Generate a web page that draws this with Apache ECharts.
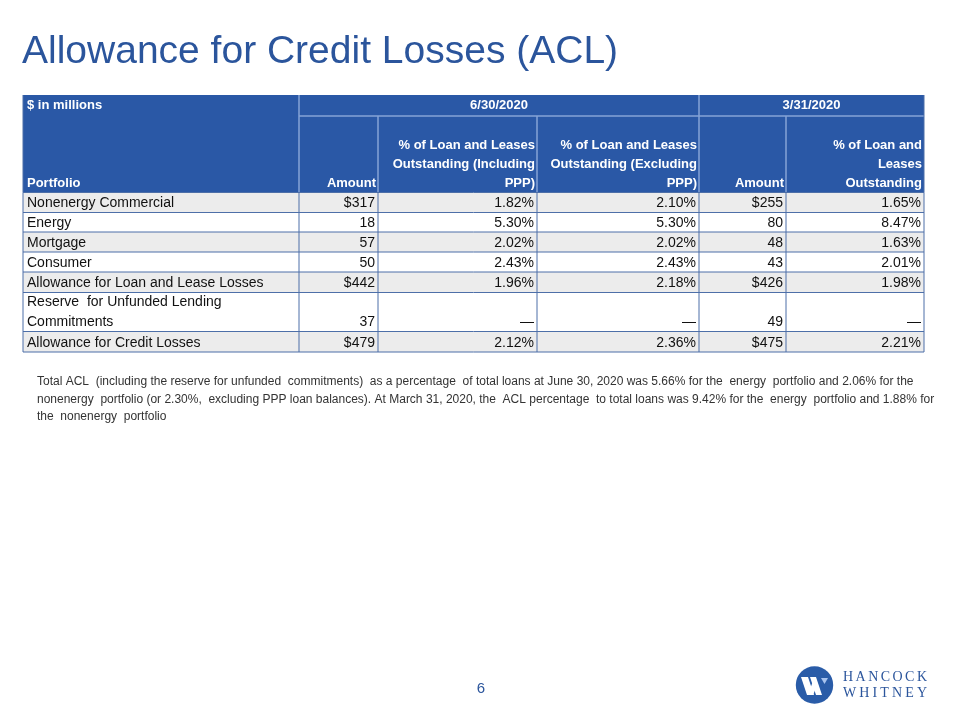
<!DOCTYPE html>
<html>
<head>
<meta charset="utf-8">
<script src="https://cdn.jsdelivr.net/npm/echarts@6/dist/echarts.min.js"></script>
<style>
  html, body { margin: 0; padding: 0; background: #fff; }
  #main { width: 960px; height: 720px; }
</style>
</head>
<body>
<div id="main"></div>
<script>
// table data
const groupHeaders = ['6/30/2020', '3/31/2020']
const columnHeaders = [
  ['Portfolio'],
  ['Amount'],
  ['% of Loan and Leases', 'Outstanding (Including', 'PPP)'],
  ['% of Loan and Leases', 'Outstanding (Excluding', 'PPP)'],
  ['Amount'],
  ['% of Loan and', 'Leases', 'Outstanding']
]
const portfolio = [
  ['Nonenergy Commercial'],
  ['Energy'],
  ['Mortgage'],
  ['Consumer'],
  ['Allowance for Loan and Lease Losses'],
  ['Reserve  for Unfunded Lending', 'Commitments'],
  ['Allowance for Credit Losses']
]
const dollarRows = [0, 4, 6]
const amountJun = [317, 18, 57, 50, 442, 37, 479]
const pctInclPPP = [1.82, 5.30, 2.02, 2.43, 1.96, null, 2.12]
const pctExclPPP = [2.10, 5.30, 2.02, 2.43, 2.18, null, 2.36]
const amountMar = [255, 80, 48, 43, 426, 49, 475]
const pctMar = [1.65, 8.47, 1.63, 2.01, 1.98, null, 2.21]

const footnote = [
  'Total ACL  (including the reserve for unfunded  commitments)  as a percentage  of total loans at June 30, 2020 was 5.66% for the  energy  portfolio and 2.06% for the',
  'nonenergy  portfolio (or 2.30%,  excluding PPP loan balances). At March 31, 2020, the  ACL percentage  to total loans was 9.42% for the  energy  portfolio and 1.88% for',
  'the  nonenergy  portfolio'
]

// layout
const colX = [23, 299, 378, 537, 699, 786, 924]
const headTop = 95, headMid = 116, headBottom = 192.5
const rowY = [192.5, 212.5, 232, 252, 272, 292.5, 331.5, 352]
const blue = '#2a58a6'
const titleBlue = '#2b559c'
const gridBlue = '#4d6fa8'
const headLine = '#86a3d6'
const bodyFont = '14px "Liberation Sans", Arial, sans-serif'
const headFont = 'bold 13px "Liberation Sans", Arial, sans-serif'

const fmtAmt = (v, i) => (dollarRows.includes(i) ? '$' : '') + v
const fmtPct = v => v == null ? '\u2014' : v.toFixed(2) + '%'

const els = []

// title
els.push({
  type: 'text', x: 22, y: 52,
  style: { text: 'Allowance for Credit Losses (ACL)', fill: titleBlue, font: '39px "Liberation Sans Narrow", "Arial Narrow", sans-serif', textVerticalAlign: 'middle' }
})

// header background
els.push({ type: 'rect', shape: { x: colX[0], y: headTop, width: colX[6] - colX[0], height: headBottom - headTop }, style: { fill: blue } })
// header lines
els.push({ type: 'line', shape: { x1: colX[1], y1: headMid, x2: colX[6], y2: headMid }, style: { stroke: headLine, lineWidth: 1.5 } })
;[1, 4].forEach(c => els.push({ type: 'line', shape: { x1: colX[c], y1: headTop, x2: colX[c], y2: headBottom }, style: { stroke: headLine, lineWidth: 1.5 } }))
;[2, 3, 5].forEach(c => els.push({ type: 'line', shape: { x1: colX[c], y1: headMid, x2: colX[c], y2: headBottom }, style: { stroke: headLine, lineWidth: 1.5 } }))

// header row 1
els.push({ type: 'text', x: colX[0] + 4, y: (headTop + headMid) / 2, style: { text: '$ in millions', fill: '#fff', font: headFont, textVerticalAlign: 'middle' } })
els.push({ type: 'text', x: (colX[1] + colX[4]) / 2, y: (headTop + headMid) / 2, style: { text: groupHeaders[0], fill: '#fff', font: headFont, textAlign: 'center', textVerticalAlign: 'middle' } })
els.push({ type: 'text', x: (colX[4] + colX[6]) / 2, y: (headTop + headMid) / 2, style: { text: groupHeaders[1], fill: '#fff', font: headFont, textAlign: 'center', textVerticalAlign: 'middle' } })

// header row 2, bottom aligned
columnHeaders.forEach((lines, c) => {
  lines.forEach((t, k) => {
    const y = headBottom - 9 - (lines.length - 1 - k) * 19
    els.push({
      type: 'text',
      x: c === 0 ? colX[0] + 4 : colX[c + 1] - 2,
      y: y,
      style: { text: t, fill: '#fff', font: headFont, textAlign: c === 0 ? 'left' : 'right', textVerticalAlign: 'middle' }
    })
  })
})

// body rows
const cols = [amountJun.map(fmtAmt), pctInclPPP.map(fmtPct), pctExclPPP.map(fmtPct), amountMar.map(fmtAmt), pctMar.map(fmtPct)]
portfolio.forEach((lines, r) => {
  const y0 = rowY[r], y1 = rowY[r + 1]
  els.push({ type: 'rect', shape: { x: colX[0], y: y0, width: colX[6] - colX[0], height: y1 - y0 }, style: { fill: r % 2 === 0 ? '#ececec' : '#ffffff' } })
  lines.forEach((t, k) => {
    els.push({ type: 'text', x: colX[0] + 4, y: y1 - 9 - (lines.length - 1 - k) * 20, style: { text: t, fill: '#111', font: bodyFont, textVerticalAlign: 'middle' } })
  })
  cols.forEach((vals, c) => {
    els.push({ type: 'text', x: colX[c + 2] - 3, y: y1 - 9, style: { text: vals[r], fill: '#111', font: bodyFont, textAlign: 'right', textVerticalAlign: 'middle' } })
  })
})
// body grid
rowY.forEach(y => els.push({ type: 'line', shape: { x1: colX[0], y1: y, x2: colX[6], y2: y }, style: { stroke: gridBlue, lineWidth: 1 } }))
colX.forEach(x => els.push({ type: 'line', shape: { x1: x, y1: rowY[0], x2: x, y2: rowY[rowY.length - 1] }, style: { stroke: gridBlue, lineWidth: 1 } }))
els.push({ type: 'line', shape: { x1: colX[0], y1: headTop, x2: colX[0], y2: headBottom }, style: { stroke: gridBlue, lineWidth: 1 } })
els.push({ type: 'line', shape: { x1: colX[6], y1: headTop, x2: colX[6], y2: headBottom }, style: { stroke: gridBlue, lineWidth: 1 } })

// footnote
footnote.forEach((t, i) => {
  els.push({ type: 'text', x: 37, y: 382 + i * 17.5, style: { text: t, fill: '#333', font: '12px "Liberation Sans", Arial, sans-serif', textVerticalAlign: 'middle' } })
})

// page number
els.push({ type: 'text', x: 481, y: 689, style: { text: '6', fill: titleBlue, font: '15px "Liberation Sans", Arial, sans-serif', textAlign: 'center', textVerticalAlign: 'middle' } })

// logo
els.push({ type: 'circle', shape: { cx: 814.5, cy: 685, r: 18.7 }, style: { fill: '#2a5ca8' } })
els.push({ type: 'polygon', shape: { points: [[801, 677], [808, 677], [814, 695], [807, 695]] }, style: { fill: '#fff' } })
els.push({ type: 'polygon', shape: { points: [[808, 695], [813, 681], [816, 688], [813, 695]] }, style: { fill: '#fff' } })
els.push({ type: 'polygon', shape: { points: [[810, 677], [816, 677], [822, 695], [816, 695]] }, style: { fill: '#fff' } })
els.push({ type: 'polygon', shape: { points: [[821, 678], [828, 678], [824.5, 684]] }, style: { fill: '#a9c4ee' } })

// letter-spaced wordmark, justified to the same width
const logoFont = '14px "Liberation Serif", "DejaVu Serif", serif'
const measure = document.createElement('canvas').getContext('2d')
measure.font = logoFont
;['HANCOCK', 'WHITNEY'].forEach((word, w) => {
  const chars = word.split('')
  const widths = chars.map(ch => measure.measureText(ch).width)
  const total = widths.reduce((a, b) => a + b, 0)
  const gap = (84 - total) / (chars.length - 1)
  let x = 843
  chars.forEach((ch, i) => {
    els.push({ type: 'text', x: x, y: 677 + w * 16, style: { text: ch, fill: titleBlue, font: logoFont, textVerticalAlign: 'middle' } })
    x += widths[i] + gap
  })
})

const chart = echarts.init(document.getElementById('main'))
chart.setOption({
  backgroundColor: '#ffffff',
  animation: false,
  graphic: { elements: els }
})
</script>
</body>
</html>
